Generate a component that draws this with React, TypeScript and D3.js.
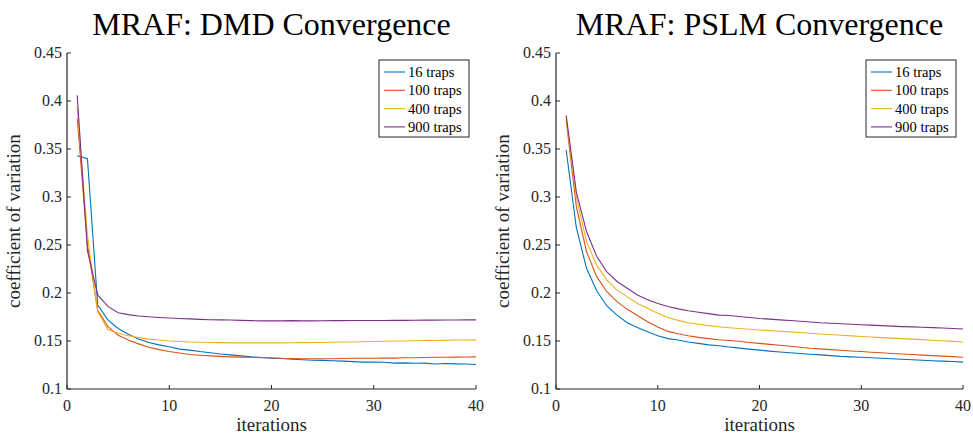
import React from "react";
import * as d3 from "d3";

const iterations = d3.range(1, 41);
const seriesNames = ["16 traps", "100 traps", "400 traps", "900 traps"];
const seriesColors = ["#0072BD", "#D95319", "#EDB120", "#7E2F8E"];
const xTicks = [0, 10, 20, 30, 40];
const yTicks = [0.1, 0.15, 0.2, 0.25, 0.3, 0.35, 0.4, 0.45];

// MRAF: DMD Convergence
const dmd16 = [0.343, 0.340, 0.1875, 0.172, 0.163, 0.157, 0.152, 0.1485, 0.146, 0.144, 0.1415, 0.1405, 0.139, 0.1378, 0.1365, 0.1355, 0.1345, 0.1335, 0.1328, 0.132, 0.1318, 0.131, 0.1305, 0.130, 0.1298, 0.1295, 0.129, 0.1285, 0.128, 0.128, 0.1278, 0.127, 0.1272, 0.1268, 0.127, 0.126, 0.1265, 0.1262, 0.126, 0.1255];
const dmd100 = [0.382, 0.25, 0.182, 0.165, 0.156, 0.151, 0.147, 0.1435, 0.141, 0.139, 0.1375, 0.136, 0.1352, 0.1345, 0.134, 0.1335, 0.1332, 0.133, 0.1327, 0.1325, 0.132, 0.1318, 0.1315, 0.1315, 0.1315, 0.1315, 0.1318, 0.132, 0.132, 0.132, 0.1322, 0.1322, 0.1325, 0.1325, 0.1328, 0.133, 0.133, 0.1332, 0.1333, 0.1335];
const dmd400 = [0.394, 0.26, 0.1805, 0.162, 0.158, 0.1555, 0.1535, 0.152, 0.151, 0.150, 0.1495, 0.149, 0.1487, 0.1485, 0.1483, 0.148, 0.148, 0.148, 0.148, 0.148, 0.148, 0.1482, 0.1483, 0.1485, 0.1485, 0.1487, 0.149, 0.149, 0.1492, 0.1495, 0.1497, 0.150, 0.150, 0.1502, 0.1505, 0.1505, 0.1507, 0.151, 0.151, 0.1512];
const dmd900 = [0.406, 0.244, 0.198, 0.186, 0.1795, 0.1775, 0.176, 0.1752, 0.1745, 0.174, 0.1735, 0.173, 0.1725, 0.1722, 0.172, 0.1718, 0.1715, 0.1712, 0.171, 0.171, 0.171, 0.1712, 0.171, 0.171, 0.1711, 0.1712, 0.1712, 0.1713, 0.1713, 0.1714, 0.1714, 0.1715, 0.1715, 0.1716, 0.1717, 0.1717, 0.1718, 0.1719, 0.172, 0.172];

// MRAF: PSLM Convergence
const pslm16 = [0.349, 0.268, 0.2257, 0.2024, 0.1865, 0.177, 0.169, 0.164, 0.1597, 0.1555, 0.1525, 0.151, 0.149, 0.1475, 0.146, 0.145, 0.1438, 0.1426, 0.1415, 0.1405, 0.1395, 0.1385, 0.1377, 0.137, 0.1362, 0.1355, 0.1348, 0.134, 0.1335, 0.133, 0.1325, 0.132, 0.1315, 0.131, 0.1305, 0.130, 0.1295, 0.129, 0.1287, 0.128];
const pslm100 = [0.380, 0.290, 0.243, 0.217, 0.2013, 0.191, 0.183, 0.1765, 0.170, 0.1645, 0.160, 0.1575, 0.1555, 0.1538, 0.1525, 0.1513, 0.1505, 0.1497, 0.1485, 0.1475, 0.1465, 0.1455, 0.1445, 0.1435, 0.1425, 0.1418, 0.141, 0.1403, 0.1396, 0.139, 0.1383, 0.1377, 0.137, 0.1365, 0.136, 0.1353, 0.1348, 0.1342, 0.1337, 0.133];
const pslm400 = [0.382, 0.300, 0.2535, 0.229, 0.2135, 0.203, 0.196, 0.189, 0.184, 0.179, 0.1745, 0.1715, 0.169, 0.1675, 0.166, 0.1648, 0.1638, 0.163, 0.1622, 0.1615, 0.1608, 0.1601, 0.1595, 0.1588, 0.158, 0.1573, 0.1567, 0.156, 0.1553, 0.1547, 0.1541, 0.1535, 0.153, 0.1525, 0.152, 0.1514, 0.1508, 0.1502, 0.1496, 0.149];
const pslm900 = [0.385, 0.305, 0.264, 0.238, 0.222, 0.212, 0.205, 0.198, 0.193, 0.189, 0.186, 0.1835, 0.1815, 0.180, 0.1785, 0.177, 0.1765, 0.1755, 0.1745, 0.1735, 0.1728, 0.172, 0.1713, 0.1705, 0.1698, 0.169, 0.1685, 0.168, 0.1675, 0.167, 0.1665, 0.166, 0.1655, 0.165, 0.1647, 0.1643, 0.1639, 0.1635, 0.163, 0.1625];

const FONT = "'Liberation Serif', 'Times New Roman', serif";
const AXIS = "#262626";

type PanelProps = {
  title: string;
  series: number[][];
  left: number;
  right: number;
};

function Panel({ title, series, left, right }: PanelProps) {
  const top = 53;
  const bottom = 389;
  const x = d3.scaleLinear().domain([0, 40]).range([left, right]);
  const y = d3.scaleLinear().domain([0.1, 0.45]).range([bottom, top]);
  const line = d3
    .line<number>()
    .x((_, i) => x(iterations[i]))
    .y((d) => y(d));
  const cx = (left + right) / 2;
  const legW = 90;
  const legX = right - 7 - legW;
  const legY = 60;
  const rowH = 18.3;
  return (
    <g>
      <text x={cx} y={35} textAnchor="middle" fontFamily={FONT} fontSize={32} fill="#000">
        {title}
      </text>
      {series.map((s, k) => (
        <path key={k} d={line(s) || ""} fill="none" stroke={seriesColors[k]} strokeWidth={1.1} />
      ))}
      <line x1={left} x2={right} y1={bottom} y2={bottom} stroke={AXIS} strokeWidth={1.2} />
      <line x1={left} x2={left} y1={top} y2={bottom} stroke={AXIS} strokeWidth={1.2} />
      {xTicks.map((t) => (
        <g key={t}>
          <line x1={x(t)} x2={x(t)} y1={bottom} y2={bottom - 4} stroke={AXIS} strokeWidth={1} />
          <text x={x(t)} y={411} textAnchor="middle" fontFamily={FONT} fontSize={16} fill={AXIS}>
            {t}
          </text>
        </g>
      ))}
      {yTicks.map((t) => (
        <g key={t}>
          <line x1={left} x2={left + 4} y1={y(t)} y2={y(t)} stroke={AXIS} strokeWidth={1} />
          <text x={left - 5} y={y(t) + 5} textAnchor="end" fontFamily={FONT} fontSize={16} fill={AXIS}>
            {String(t)}
          </text>
        </g>
      ))}
      <text x={cx} y={431} textAnchor="middle" fontFamily={FONT} fontSize={19} fill={AXIS}>
        iterations
      </text>
      <text
        transform={`translate(${left - 47},${(top + bottom) / 2}) rotate(-90)`}
        textAnchor="middle"
        fontFamily={FONT}
        fontSize={19}
        fill={AXIS}
      >
        coefficient of variation
      </text>
      <rect x={legX} y={legY} width={legW} height={77} fill="#fff" stroke={AXIS} strokeWidth={1} />
      {seriesNames.map((n, k) => {
        const ry = legY + 12 + k * rowH;
        return (
          <g key={n}>
            <line x1={legX + 5} x2={legX + 26} y1={ry} y2={ry} stroke={seriesColors[k]} strokeWidth={1.1} />
            <text x={legX + 29} y={ry + 5} fontFamily={FONT} fontSize={14.5} fill="#000">
              {n}
            </text>
          </g>
        );
      })}
    </g>
  );
}

export default function App() {
  return (
    <svg
      width={973}
      height={435}
      style={{ position: "absolute", left: 0, top: 0, background: "#fff" }}
    >
      <rect width={973} height={435} fill="#fff" />
      <Panel title="MRAF: DMD Convergence" series={[dmd16, dmd100, dmd400, dmd900]} left={67} right={476} />
      <Panel title="MRAF: PSLM Convergence" series={[pslm16, pslm100, pslm400, pslm900]} left={556} right={963} />
    </svg>
  );
}
